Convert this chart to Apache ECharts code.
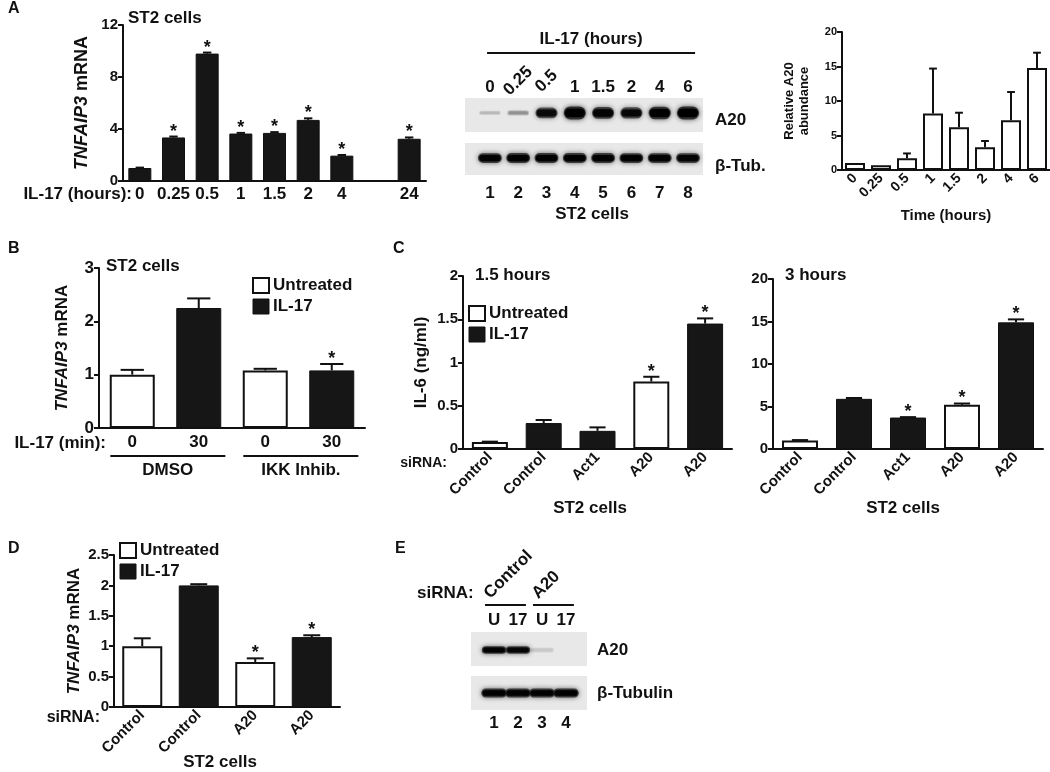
<!DOCTYPE html>
<html><head><meta charset="utf-8">
<script src="https://cdn.jsdelivr.net/npm/echarts@6/dist/echarts.min.js"></script>
<style>html,body{margin:0;padding:0;background:#fff}#c{width:1050px;height:772px}</style>
</head><body><div id="c"></div>
<script>
// ================= DATA =================
// Panel A (left): TNFAIP3 mRNA time course
const aCats = ['0','0.25','0.5','1','1.5','2','4','','24'];
const aMean = [1.0, 3.35, 9.8, 3.65, 3.7, 4.7, 1.95, null, 3.25];
const aErr  = [1.03, 3.42, 9.88, 3.7, 3.76, 4.82, 2.0, null, 3.35];
const aStar = [0, 1, 1, 1, 1, 1, 1, 0, 1];

// Panel A (middle): western blot, band intensities 0..1
const blotATimes = ['0','0.25','0.5','1','1.5','2','4','6'];
const blotALanes = ['1','2','3','4','5','6','7','8'];
const blotA_A20  = [0.12, 0.22, 0.78, 1.0, 0.88, 0.82, 0.96, 1.0];
const blotA_Tub  = [0.9, 0.93, 0.93, 0.92, 0.92, 0.9, 0.9, 0.88];
const blotAGroup = [['IL-17 (hours)', 1, 8]];

// Panel A (right): relative A20 abundance
const relCats = ['0','0.25','0.5','1','1.5','2','4','6'];
const relMean = [1.0, 0.7, 1.7, 8.2, 6.2, 3.3, 7.2, 14.8];
const relErr  = [1.0, 0.7, 2.4, 14.7, 8.3, 4.2, 11.3, 17.0];

// Panel B
const bCats = ['0','30','0','30'];
const bUntreated = [1.0, null, 1.08, null];
const bIL17      = [null, 2.25, null, 1.08];
const bErr  = [1.09, 2.43, 1.11, 1.2];
const bStar = [0, 0, 0, 1];
const bGroups = [['DMSO', 0, 1], ['IKK Inhib.', 2, 3]];

// Panel C
const cCats = ['Control','Control','Act1','A20','A20'];
const c1Untreated = [0.08, null, null, 0.78, null];
const c1IL17      = [null, 0.30, 0.21, null, 1.45];
const c1Err  = [0.085, 0.335, 0.25, 0.835, 1.51];
const c1Star = [0, 0, 0, 1, 1];
const c2Untreated = [1.0, null, null, 5.2, null];
const c2IL17      = [null, 5.9, 3.7, null, 14.9];
const c2Err  = [1.05, 6.0, 3.75, 5.35, 15.25];
const c2Star = [0, 0, 1, 1, 1];

// Panel D
const dCats = ['Control','Control','A20','A20'];
const dUntreated = [1.0, null, 0.74, null];
const dIL17      = [null, 2.0, null, 1.15];
const dErr  = [1.13, 2.02, 0.8, 1.18];
const dStar = [0, 0, 1, 1];

// Panel E: western blot
const eTreat = ['U','17','U','17'];
const eLanes = ['1','2','3','4'];
const eGroups = [['Control', 1, 2], ['A20', 3, 4]];
const eA20 = [0.9, 0.85, 0.08, 0.0];
const eTub = [0.92, 0.92, 0.9, 0.93];

// ================= STYLE =================
const FONT = '"Liberation Sans", Arial, Helvetica, sans-serif';
const INK = '#111';
const BLACK = '#161616';
const BLOT_BG = '#e8e8e8';
const rotatedTimeIdx = [1, 2];

const merge = (a, b) => a.map((v, i) => v != null ? v : b[i]);
const dash = arr => arr.map(v => v == null ? '-' : v);

function txt(text, x, y, o) {
  return {type:'text', x, y, silent:true, style:Object.assign({text, fill:INK, fontFamily:FONT, fontWeight:'bold', fontSize:17, align:'left', verticalAlign:'middle'}, o || {})};
}

function catX(grid, data, fs, rot, margin) {
  return {type:'category', gridIndex:grid, data,
    axisLine:{lineStyle:{color:INK, width:2}},
    axisTick:{alignWithLabel:true, length:5, lineStyle:{color:INK, width:2}},
    axisLabel:{color:INK, fontFamily:FONT, fontWeight:'bold', fontSize:fs, rotate:rot || 0, margin:margin, interval:0},
    splitLine:{show:false}};
}
function valY(grid, min, max, interval, fs, name, gap, nfs) {
  return {type:'value', gridIndex:grid, min, max, interval,
    axisLine:{show:true, lineStyle:{color:INK, width:2}},
    axisTick:{show:true, length:5, lineStyle:{color:INK, width:2}},
    axisLabel:{color:INK, fontFamily:FONT, fontWeight:'bold', fontSize:fs, margin:5},
    splitLine:{show:false},
    name: name || '', nameLocation:'middle', nameGap:gap || 0, nameRotate:90,
    nameTextStyle:{color:INK, fontFamily:FONT, fontWeight:'bold', fontSize:nfs || 17, lineHeight:(nfs||17)+2,
      rich:{i:{fontStyle:'italic', fontWeight:'bold', fontFamily:FONT, fontSize:nfs || 17, color:INK}}}};
}
const hiddenX = (grid, min, max) => ({type:'value', gridIndex:grid, min, max, show:false});
const hiddenY = grid => ({type:'value', gridIndex:grid, min:0, max:1, show:false});

function barSeries(name, xi, yi, data, width, white) {
  return {type:'bar', name, xAxisIndex:xi, yAxisIndex:yi, data:dash(data), barWidth:width, barGap:'-100%',
    itemStyle: white ? {color:'#fff', borderColor:INK, borderWidth:2} : {color:BLACK, borderColor:INK, borderWidth:1},
    emphasis:{disabled:true}, silent:true};
}

function errSeries(xi, yi, means, errs, stars, capRatio) {
  const data = [];
  means.forEach((m, i) => { if (m != null) data.push([i, m, errs[i] == null ? m : errs[i], stars ? stars[i] : 0]); });
  return {type:'custom', xAxisIndex:xi, yAxisIndex:yi, z:5, silent:true, data,
    renderItem:(params, api) => {
      const i = api.value(0), m = api.value(1), e = api.value(2), s = api.value(3);
      const p = api.coord([i, m]), t = api.coord([i, e]);
      const cap = api.size([1, 0])[0] * capRatio;
      const ch = [];
      if (e > m) {
        ch.push({type:'line', shape:{x1:p[0], y1:p[1], x2:t[0], y2:t[1]}, style:{stroke:INK, lineWidth:2}});
        ch.push({type:'line', shape:{x1:t[0]-cap/2, y1:t[1], x2:t[0]+cap/2, y2:t[1]}, style:{stroke:INK, lineWidth:2}});
      }
      if (s) ch.push({type:'text', x:p[0], y:t[1] + 4, style:{text:'*', fill:INK, fontFamily:FONT, fontWeight:'bold', fontSize:18, align:'center', verticalAlign:'bottom'}});
      return {type:'group', children:ch};
    }};
}

function bandSeries(xi, yi, vals, rowFrac, wRatio, hMin, hMax) {
  return {type:'custom', xAxisIndex:xi, yAxisIndex:yi, silent:true, data: vals.map((v, i) => [i + 1, v]),
    renderItem:(params, api) => {
      const lane = api.value(0), v = api.value(1);
      if (!(v > 0.02)) return null;
      const cs = params.coordSys;
      const cx = api.coord([lane, 0])[0];
      const w = api.size([1, 0])[0] * wRatio;
      const h = hMin + (hMax - hMin) * v;
      const cy = cs.y + cs.height * rowFrac;
      return {type:'group', children:[
        {type:'rect', shape:{x:cx - w/2, y:cy - h/2, width:w, height:h, r:h/2},
          style:{fill:'rgba(20,20,20,' + (Math.min(1, v)*0.75) + ')', shadowBlur:5, shadowColor:'rgba(0,0,0,' + (v*0.9) + ')'}},
        {type:'rect', shape:{x:cx - w*0.45, y:cy - h*0.32, width:w*0.9, height:h*0.64, r:h*0.32},
          style:{fill:'rgba(0,0,0,' + Math.min(1, v) + ')', shadowBlur:2, shadowColor:'rgba(0,0,0,' + (v*0.6) + ')'}}
      ]};
    }};
}

function laneTextSeries(xi, yi, texts, anchor, dy, fs, rotIdx, rotDy) {
  return {type:'custom', xAxisIndex:xi, yAxisIndex:yi, silent:true, data: texts.map((t, i) => [i + 1, 0]),
    renderItem:(params, api) => {
      const cs = params.coordSys, i = params.dataIndex;
      const x = api.coord([api.value(0), 0])[0];
      const base = anchor === 'top' ? cs.y : cs.y + cs.height;
      const rot = rotIdx && rotIdx.indexOf(i) >= 0;
      return {type:'text', x, y: base + dy + (rot ? rotDy : 0), rotation: rot ? Math.PI/4 : 0,
        style:{text:texts[i], fill:INK, fontFamily:FONT, fontWeight:'bold', fontSize:fs, align:'center', verticalAlign:'middle'}};
    }};
}

function bracketSeries(xi, yi, groups, o) {
  return {type:'custom', xAxisIndex:xi, yAxisIndex:yi, silent:true, data: groups.map(g => [g[1], g[2]]),
    renderItem:(params, api) => {
      const cs = params.coordSys, label = groups[params.dataIndex][0];
      const pitch = api.size([1, 0])[0];
      const x1 = api.coord([api.value(0), 0])[0] - pitch * o.padL;
      const x2 = api.coord([api.value(1), 0])[0] + pitch * o.padR;
      const y = (o.anchor === 'top' ? cs.y : cs.y + cs.height) + o.dy;
      const ch = [{type:'line', shape:{x1, y1:y, x2, y2:y}, style:{stroke:INK, lineWidth:2.2}}];
      if (o.rotate) {
        ch.push({type:'text', x:x1 + o.tx, y:y + o.ty, rotation:Math.PI/4,
          style:{text:label, fill:INK, fontFamily:FONT, fontWeight:'bold', fontSize:o.fs, align:'left', verticalAlign:'bottom'}});
      } else {
        ch.push({type:'text', x:(x1 + x2)/2, y:y + o.ty,
          style:{text:label, fill:INK, fontFamily:FONT, fontWeight:'bold', fontSize:o.fs, align:'center', verticalAlign:'middle'}});
      }
      return {type:'group', children:ch};
    }};
}

const legendData = [
  {name:'Untreated', itemStyle:{color:'#fff', borderColor:INK, borderWidth:2}},
  {name:'IL-17', itemStyle:{color:BLACK, borderColor:INK, borderWidth:1}}
];
function legendAt(left, top) {
  return {left, top, orient:'vertical', icon:'rect', itemWidth:16, itemHeight:15, itemGap:4, itemStyle:{}, selectedMode:false,
    data:legendData, padding:0, textStyle:{color:INK, fontFamily:FONT, fontWeight:'bold', fontSize:17, padding:[0,0,0,-1]}};
}

const bgGrid = {show:true, backgroundColor:BLOT_BG, borderWidth:0};
const grids = [
  {left:123, top:25, width:303, height:156},                        // 0 A left
  Object.assign({left:465, top:98, width:238, height:34}, bgGrid),  // 1 A blot A20
  Object.assign({left:465, top:143, width:238, height:32}, bgGrid), // 2 A blot tub
  {left:842, top:32, width:208, height:138},                        // 3 A right
  {left:99, top:268, width:266, height:160},                        // 4 B
  {left:463, top:276, width:269, height:173},                       // 5 C1
  {left:773, top:279, width:270, height:170},                       // 6 C2
  {left:114, top:555, width:226, height:152},                       // 7 D
  Object.assign({left:471, top:632, width:116, height:34}, bgGrid), // 8 E A20
  Object.assign({left:471, top:676, width:116, height:34}, bgGrid)  // 9 E tub
].map(g => Object.assign({outerBoundsMode:'none', containLabel:false}, g));

const option = {
  animation:false,
  backgroundColor:'#fff',
  textStyle:{fontFamily:FONT},
  grid:grids,
  legend:[legendAt(252, 277), legendAt(468, 305), legendAt(119, 542)],
  xAxis:[
    catX(0, aCats, 17, 0, 5),
    hiddenX(1, 0.12, 8.53),
    hiddenX(2, 0.12, 8.53),
    catX(3, relCats, 14, 45, 6),
    catX(4, bCats, 17, 0, 6),
    catX(5, cCats, 15, 45, 6),
    catX(6, cCats, 15, 45, 6),
    catX(7, dCats, 15, 45, 6),
    hiddenX(8, 0.04, 4.875),
    hiddenX(9, 0.04, 4.875)
  ],
  yAxis:[
    valY(0, 0, 12, 4, 15, '{i|TNFAIP3} mRNA', 31, 18),
    hiddenY(1), hiddenY(2),
    valY(3, 0, 20, 5, 11, 'Relative A20\nabundance', 30, 13),
    valY(4, 0, 3, 1, 17, '{i|TNFAIP3} mRNA', 27),
    valY(5, 0, 2, 0.5, 15, 'IL-6 (ng/ml)', 32),
    valY(6, 0, 20, 5, 15),
    valY(7, 0, 2.5, 0.5, 15, '{i|TNFAIP3} mRNA', 30),
    hiddenY(8), hiddenY(9)
  ],
  series:[
    // A left
    barSeries('IL-17', 0, 0, aMean, 23, false),
    errSeries(0, 0, aMean, aErr, aStar, 0.25),
    // A blot
    bandSeries(1, 1, blotA_A20, 0.44, 0.78, 3, 13),
    bandSeries(2, 2, blotA_Tub, 0.47, 0.84, 8, 10),
    laneTextSeries(1, 1, blotATimes, 'top', -11, 17, rotatedTimeIdx, -6),
    laneTextSeries(2, 2, blotALanes, 'bottom', 18, 17),
    bracketSeries(1, 1, blotAGroup, {anchor:'top', dy:-45, padL:0.1, padR:0.25, ty:-14, fs:17}),
    // A right
    barSeries('Untreated', 3, 3, relMean, 20, true),
    errSeries(3, 3, relMean, relErr, null, 0.3),
    // B
    barSeries('Untreated', 4, 4, bUntreated, 45, true),
    barSeries('IL-17', 4, 4, bIL17, 45, false),
    errSeries(4, 4, merge(bUntreated, bIL17), bErr, bStar, 0.35),
    bracketSeries(4, 4, bGroups, {anchor:'bottom', dy:28, padL:0.33, padR:0.4, ty:14, fs:17}),
    // C1
    barSeries('Untreated', 5, 5, c1Untreated, 36, true),
    barSeries('IL-17', 5, 5, c1IL17, 36, false),
    errSeries(5, 5, merge(c1Untreated, c1IL17), c1Err, c1Star, 0.3),
    // C2
    barSeries('Untreated', 6, 6, c2Untreated, 36, true),
    barSeries('IL-17', 6, 6, c2IL17, 36, false),
    errSeries(6, 6, merge(c2Untreated, c2IL17), c2Err, c2Star, 0.3),
    // D
    barSeries('Untreated', 7, 7, dUntreated, 40, true),
    barSeries('IL-17', 7, 7, dIL17, 40, false),
    errSeries(7, 7, merge(dUntreated, dIL17), dErr, dStar, 0.3),
    // E blot
    bandSeries(8, 8, eA20, 0.53, 1.02, 5, 8),
    bandSeries(9, 9, eTub, 0.5, 1.06, 8, 9),
    laneTextSeries(8, 8, eTreat, 'top', -12, 17),
    laneTextSeries(9, 9, eLanes, 'bottom', 13, 17),
    bracketSeries(8, 8, eGroups, {anchor:'top', dy:-27, padL:0.375, padR:0.33, rotate:true, tx:8, ty:-3, fs:17})
  ],
  graphic:[
    txt('A', 8, 9, {fontSize:16}),
    txt('B', 8, 249, {fontSize:16}),
    txt('C', 393, 249, {fontSize:16}),
    txt('D', 8, 549, {fontSize:16}),
    txt('E', 395, 549, {fontSize:16}),
    txt('ST2 cells', 128, 18),
    txt('IL-17 (hours):', 132, 194, {align:'right'}),
    txt('A20', 715, 120),
    txt('\u03b2-Tub.', 715, 166),
    txt('ST2 cells', 592, 214, {align:'center'}),
    txt('Time (hours)', 946, 216, {align:'center', fontSize:15}),
    txt('ST2 cells', 106, 266),
    txt('IL-17 (min):', 106, 443, {align:'right'}),
    txt('1.5 hours', 475, 275),
    txt('3 hours', 785, 275),
    txt('siRNA:', 447, 463, {align:'right', fontSize:14}),
    txt('ST2 cells', 590, 508, {align:'center'}),
    txt('ST2 cells', 903, 508, {align:'center'}),
    txt('siRNA:', 100, 718, {align:'right', fontSize:16}),
    txt('ST2 cells', 220, 762, {align:'center'}),
    txt('siRNA:', 417, 593),
    txt('A20', 597, 650),
    txt('\u03b2-Tubulin', 597, 693)
  ]
};
const chart = echarts.init(document.getElementById('c'));
chart.setOption(option);
</script>
</body></html>
